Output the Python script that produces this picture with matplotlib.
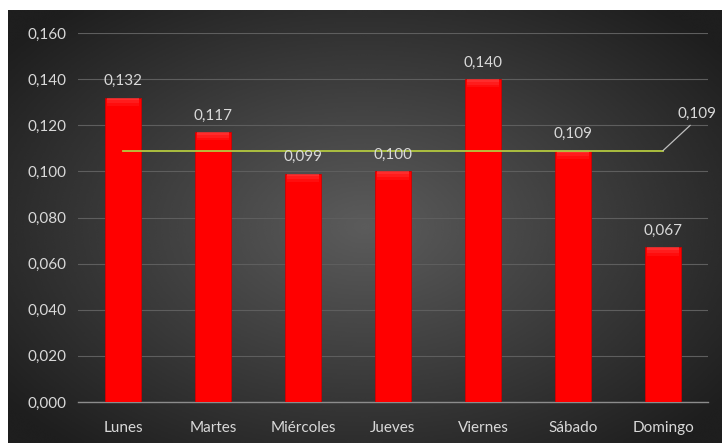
import matplotlib.pyplot as plt
import numpy as np

# weekly values
dias = ["Lunes", "Martes", "Miércoles", "Jueves", "Viernes", "Sábado", "Domingo"]
valores = [0.132, 0.117, 0.099, 0.100, 0.140, 0.109, 0.067]
promedio = 0.109
y_ticks = [0.0, 0.02, 0.04, 0.06, 0.08, 0.10, 0.12, 0.14, 0.16]

TEXT = "#d9d9d9"
FONT = ["Lato", "DejaVu Sans"]

def coma(v):
    return f"{v:.3f}".replace(".", ",")

fig = plt.figure(figsize=(7.22, 4.43), dpi=100)
fig.patch.set_facecolor("white")

# dark radial background (starts a bit in from the left/top edges)
bg = fig.add_axes([8 / 722, 0, 1 - 8 / 722, 433 / 443])
yy, xx = np.mgrid[-1:1:300j, -1:1:500j]
r = np.sqrt((xx * 0.95) ** 2 + (yy * 0.9) ** 2)
shade = np.clip(0.36 - 0.2 * r, 0.12, 0.36)
bg.imshow(shade, cmap="gray", vmin=0, vmax=1, aspect="auto", interpolation="bicubic")
bg.axis("off")

ax = fig.add_axes([78 / 722, 41 / 443, 630 / 722, 369 / 443])
ax.set_facecolor("none")
x = np.arange(len(dias))

bars = ax.bar(x, valores, width=0.4, color="#ff0000", edgecolor="#d00000", linewidth=0.6, zorder=3)
# soft bevel on top of each bar
for b in bars:
    for k, a in enumerate([0.35, 0.22, 0.1]):
        ax.bar(b.get_x() + b.get_width() / 2, 0.0012, width=b.get_width() * 0.9,
               bottom=b.get_height() - 0.0012 * (k + 1), color="#ff8080", alpha=a,
               linewidth=0, zorder=4)

for xi, v in zip(x, valores):
    ax.annotate(coma(v), (xi, v), xytext=(0, 7), textcoords="offset points",
                ha="center", va="bottom", color=TEXT, fontsize=11, family=FONT, zorder=6)

# average line with leader to its label
ax.plot([x[0], x[-1]], [promedio, promedio], color="#b4c93f", linewidth=1.3, zorder=5)
ax.annotate(coma(promedio), xy=(x[-1], promedio), xytext=(x[-1] + 0.38, promedio + 0.013),
            color=TEXT, fontsize=11, family=FONT, ha="center", va="bottom",
            arrowprops=dict(arrowstyle="-", color="#bfbfbf", lw=0.9,
                            shrinkA=2, shrinkB=0, relpos=(0.45, 0)), zorder=6)

ax.set_xlim(-0.5, len(dias) - 0.5)
ax.set_ylim(0, 0.16)
ax.set_yticks(y_ticks)
ax.set_yticklabels([coma(t) for t in y_ticks])
ax.set_xticks(x)
ax.set_xticklabels(dias)
ax.grid(axis="y", color="#5e5e5e", linewidth=0.8, zorder=0)
ax.tick_params(length=0, colors=TEXT, labelsize=11, pad=8)
ax.tick_params(axis="x", pad=14)
for lbl in ax.get_xticklabels() + ax.get_yticklabels():
    lbl.set_family(FONT)
for s in ["top", "right", "left"]:
    ax.spines[s].set_visible(False)
ax.spines["bottom"].set_color("#8c8c8c")
ax.spines["bottom"].set_linewidth(1)

fig.savefig("out.png", dpi=100)
